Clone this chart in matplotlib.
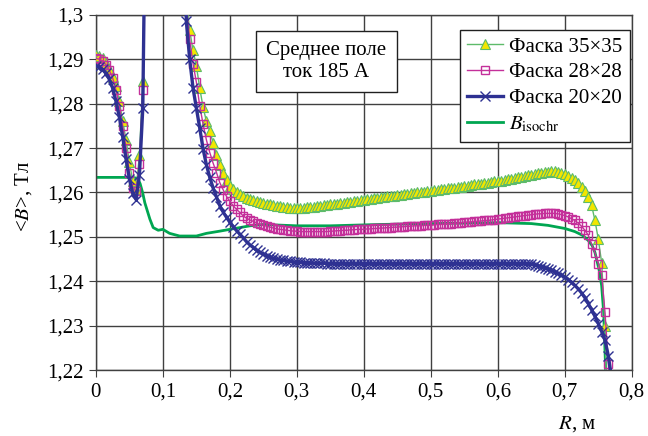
import numpy as np
import matplotlib
matplotlib.use("Agg")
import matplotlib.pyplot as plt

plt.rcParams['font.family'] = ['Liberation Serif', 'DejaVu Serif']
plt.rcParams['mathtext.fontset'] = 'stix'

# sampling grid of the calculation (m)
r_left = np.round(np.arange(0.0, 0.0751, 0.005), 3)
r_right = np.round(np.arange(0.130, 0.7701, 0.005), 3)
r = np.concatenate([r_left, r_right])

# chamfer 35x35
b35_left = [1.2910, 1.2908, 1.2903, 1.2892, 1.2878, 1.2860, 1.2840, 1.2805,
            1.2762, 1.2718, 1.2668, 1.2625, 1.2608, 1.2685, 1.2850, 1.3400]
b35_right = [1.340, 1.303, 1.2965, 1.292, 1.2885, 1.2835, 1.2792, 1.276, 1.2738, 1.2712,
             1.2685, 1.2662, 1.2643, 1.2628, 1.2615, 1.2607, 1.2601, 1.2596, 1.2592, 1.2588,
             1.2585, 1.2583, 1.2581, 1.2579, 1.2577, 1.2575, 1.2573, 1.2572, 1.2570, 1.2569,
             1.2568, 1.2567, 1.2566, 1.2566, 1.2566, 1.2566, 1.2566, 1.2567, 1.2567, 1.2568,
             1.2569, 1.2570, 1.2571, 1.2572, 1.2573, 1.2574, 1.2575, 1.2576, 1.2577, 1.2578,
             1.2579, 1.2580, 1.2581, 1.2582, 1.2584, 1.2585, 1.2586, 1.2587, 1.2588, 1.2589,
             1.2590, 1.2591, 1.2592, 1.2593, 1.2594, 1.2595, 1.2596, 1.2597, 1.2598, 1.2599,
             1.2600, 1.2601, 1.2602, 1.2603, 1.2604, 1.2605, 1.2606, 1.2607, 1.2608, 1.2609,
             1.2610, 1.2611, 1.2612, 1.2613, 1.2614, 1.2615, 1.2616, 1.2618, 1.2619, 1.2620,
             1.2621, 1.2622, 1.2624, 1.2625, 1.2626, 1.2627, 1.2629, 1.2630, 1.2631, 1.2633,
             1.2634, 1.2636, 1.2637, 1.2639, 1.2640, 1.2642, 1.2643, 1.2645, 1.2646, 1.2647,
             1.2648, 1.2648, 1.2647, 1.2645, 1.2642, 1.2638, 1.2633, 1.2628, 1.2621, 1.2613,
             1.2603, 1.2590, 1.2571, 1.2537, 1.2495, 1.2442, 1.2300, 1.1950, 1.1700]

# chamfer 28x28
b28_left = [1.2902, 1.2900, 1.2896, 1.2888, 1.2875, 1.2858, 1.2830, 1.2795,
            1.2750, 1.2700, 1.2645, 1.2610, 1.2603, 1.2665, 1.2830, 1.3400]
b28_right = [1.340, 1.302, 1.2945, 1.289, 1.2848, 1.2795, 1.2754, 1.2718, 1.269, 1.2666,
             1.2645, 1.2622, 1.2606, 1.2591, 1.2580, 1.2570, 1.2562, 1.2555, 1.2547, 1.2542,
             1.2538, 1.2535, 1.2531, 1.2528, 1.2526, 1.2524, 1.2522, 1.2520, 1.2518, 1.2517,
             1.2516, 1.2515, 1.2514, 1.2513, 1.2513, 1.2512, 1.2512, 1.2512, 1.2512, 1.2512,
             1.2512, 1.2512, 1.2512, 1.2512, 1.2513, 1.2513, 1.2514, 1.2514, 1.2515, 1.2515,
             1.2516, 1.2516, 1.2517, 1.2517, 1.2517, 1.2518, 1.2518, 1.2519, 1.2519, 1.2520,
             1.2520, 1.2521, 1.2521, 1.2522, 1.2522, 1.2523, 1.2523, 1.2524, 1.2524, 1.2525,
             1.2525, 1.2525, 1.2526, 1.2526, 1.2526, 1.2527, 1.2528, 1.2528, 1.2529, 1.2530,
             1.2530, 1.2531, 1.2531, 1.2532, 1.2533, 1.2533, 1.2534, 1.2535, 1.2535, 1.2536,
             1.2537, 1.2537, 1.2538, 1.2539, 1.2540, 1.2541, 1.2542, 1.2543, 1.2544, 1.2545,
             1.2546, 1.2547, 1.2548, 1.2549, 1.2550, 1.2551, 1.2552, 1.2552, 1.2553, 1.2553,
             1.2553, 1.2553, 1.2552, 1.2550, 1.2548, 1.2545, 1.2541, 1.2537, 1.2531, 1.2524,
             1.2515, 1.2504, 1.2484, 1.2464, 1.2440, 1.2415, 1.2330, 1.2215, 1.2000]

# chamfer 20x20
b20_left = [1.2885, 1.2882, 1.2877, 1.2868, 1.2855, 1.2835, 1.2805, 1.2770,
            1.2725, 1.2675, 1.2630, 1.2598, 1.2584, 1.2640, 1.2790, 1.3400]
b20_right = [1.340, 1.2985, 1.290, 1.2835, 1.279, 1.2745, 1.2698, 1.2662, 1.2634, 1.261,
             1.2590, 1.2570, 1.2556, 1.2544, 1.2533, 1.2523, 1.2514, 1.2506, 1.2498, 1.2489,
             1.2482, 1.2476, 1.2470, 1.2465, 1.2461, 1.2458, 1.2455, 1.2452, 1.2450, 1.2448,
             1.2447, 1.2446, 1.2445, 1.2444, 1.2443, 1.2443, 1.2442, 1.2442, 1.2442, 1.2441,
             1.2441, 1.2441, 1.2441, 1.2440, 1.2440, 1.2440, 1.2440, 1.2440, 1.2440, 1.2440,
             1.2440, 1.2440, 1.2440, 1.2440, 1.2440, 1.2440, 1.2440, 1.2440, 1.2440, 1.2440,
             1.2440, 1.2440, 1.2440, 1.2440, 1.2440, 1.2440, 1.2440, 1.2440, 1.2440, 1.2440,
             1.2440, 1.2440, 1.2440, 1.2440, 1.2440, 1.2440, 1.2440, 1.2440, 1.2440, 1.2440,
             1.2440, 1.2440, 1.2440, 1.2440, 1.2440, 1.2440, 1.2440, 1.2440, 1.2440, 1.2440,
             1.2440, 1.2440, 1.2440, 1.2440, 1.2440, 1.2440, 1.2440, 1.2440, 1.2440, 1.2440,
             1.2440, 1.2440, 1.2440, 1.2440, 1.2439, 1.2437, 1.2435, 1.2433, 1.2431, 1.2428,
             1.2425, 1.2421, 1.2418, 1.2414, 1.2410, 1.2404, 1.2398, 1.2391, 1.2383, 1.2374,
             1.2363, 1.2350, 1.2336, 1.2321, 1.2305, 1.2287, 1.2267, 1.2232, 1.2180]

b35 = np.array(b35_left + b35_right)
b28 = np.array(b28_left + b28_right)
b20 = np.array(b20_left + b20_right)

# isochronous field
r_iso = [0.0, 0.055, 0.058, 0.062, 0.066, 0.070, 0.073, 0.0806, 0.0855, 0.093,
         0.100, 0.110, 0.125, 0.150, 0.165, 0.185, 0.200, 0.215, 0.230, 0.250,
         0.300, 0.350, 0.424, 0.500, 0.550, 0.603, 0.650, 0.675, 0.700, 0.715,
         0.726, 0.735, 0.741, 0.745, 0.749, 0.752, 0.755, 0.758, 0.761]
b_iso = [1.2634, 1.2634, 1.2633, 1.2632, 1.2620, 1.2598, 1.2577, 1.2540, 1.2521, 1.2515,
         1.2517, 1.2508, 1.2502, 1.2502, 1.2508, 1.2513, 1.2517, 1.2521, 1.2525, 1.2528,
         1.2525, 1.2525, 1.2528, 1.2530, 1.2531, 1.2532, 1.2530, 1.2526, 1.2519, 1.2512,
         1.2504, 1.2492, 1.2480, 1.2465, 1.2440, 1.2420, 1.2390, 1.2330, 1.2200]

xticks = [0, 0.1, 0.2, 0.3, 0.4, 0.5, 0.6, 0.7, 0.8]
xlabels = ["0", "0,1", "0,2", "0,3", "0,4", "0,5", "0,6", "0,7", "0,8"]
yticks = [1.22, 1.23, 1.24, 1.25, 1.26, 1.27, 1.28, 1.29, 1.30]
ylabels = ["1,22", "1,23", "1,24", "1,25", "1,26", "1,27", "1,28", "1,29", "1,3"]

fig = plt.figure(figsize=(6.48, 4.36), dpi=100)
ax = fig.add_axes([0.148, 0.151, 0.827, 0.815])

ax.plot(r_iso, b_iso, color="#00A651", lw=2.0, zorder=2, label=r"$B_{\mathrm{isochr}}$")
ax.plot(r, b35, color="#5DBB6A", lw=1.0, marker="^", ms=6.5, mfc="#F2E600",
        mec="#5DBB6A", mew=0.8, zorder=3, label="Фаска 35×35")
ax.plot(r, b28, color="#C4309A", lw=1.0, marker="s", ms=5.5, mfc="none",
        mec="#C4309A", mew=1.0, zorder=4, label="Фаска 28×28")
ax.plot(r, b20, color="#2E3192", lw=2.4, marker="x", ms=7, mew=1.0,
        zorder=5, label="Фаска 20×20")

ax.set_xlim(0, 0.8)
ax.set_ylim(1.22, 1.30)
ax.set_xticks(xticks)
ax.set_xticklabels(xlabels)
ax.set_yticks(yticks)
ax.set_yticklabels(ylabels)
ax.tick_params(labelsize=15, direction="out", length=5, color="#404040", pad=4)
ax.grid(True, color="#404040", lw=1.0)
ax.set_axisbelow(True)
for s in ax.spines.values():
    s.set_color("#404040")
    s.set_linewidth(1.0)

ax.set_xlabel(r"$R$, м", fontsize=15)
ax.xaxis.set_label_coords(0.897, -0.125)
ax.set_ylabel(r"<$B$>, Тл", fontsize=15)
ax.yaxis.set_label_coords(-0.115, 0.49)

ax.text(0.43, 0.869, "Среднее поле\nток 185 А", transform=ax.transAxes,
        ha="center", va="center", multialignment="center", fontsize=15,
        bbox=dict(boxstyle="square,pad=0.5", fc="white", ec="#202020", lw=1.0),
        zorder=6)

h, l = ax.get_legend_handles_labels()
order = [1, 2, 3, 0]
leg = ax.legend([h[i] for i in order], [l[i] for i in order], loc="upper right",
                bbox_to_anchor=(0.996, 0.958), borderaxespad=0, fontsize=15,
                handlelength=1.7, handletextpad=0.3, labelspacing=0.3,
                borderpad=0.35, fancybox=False, framealpha=1, edgecolor="#202020")
leg.get_frame().set_linewidth(1.0)
leg.set_zorder(7)

fig.savefig("out.png", dpi=100)
